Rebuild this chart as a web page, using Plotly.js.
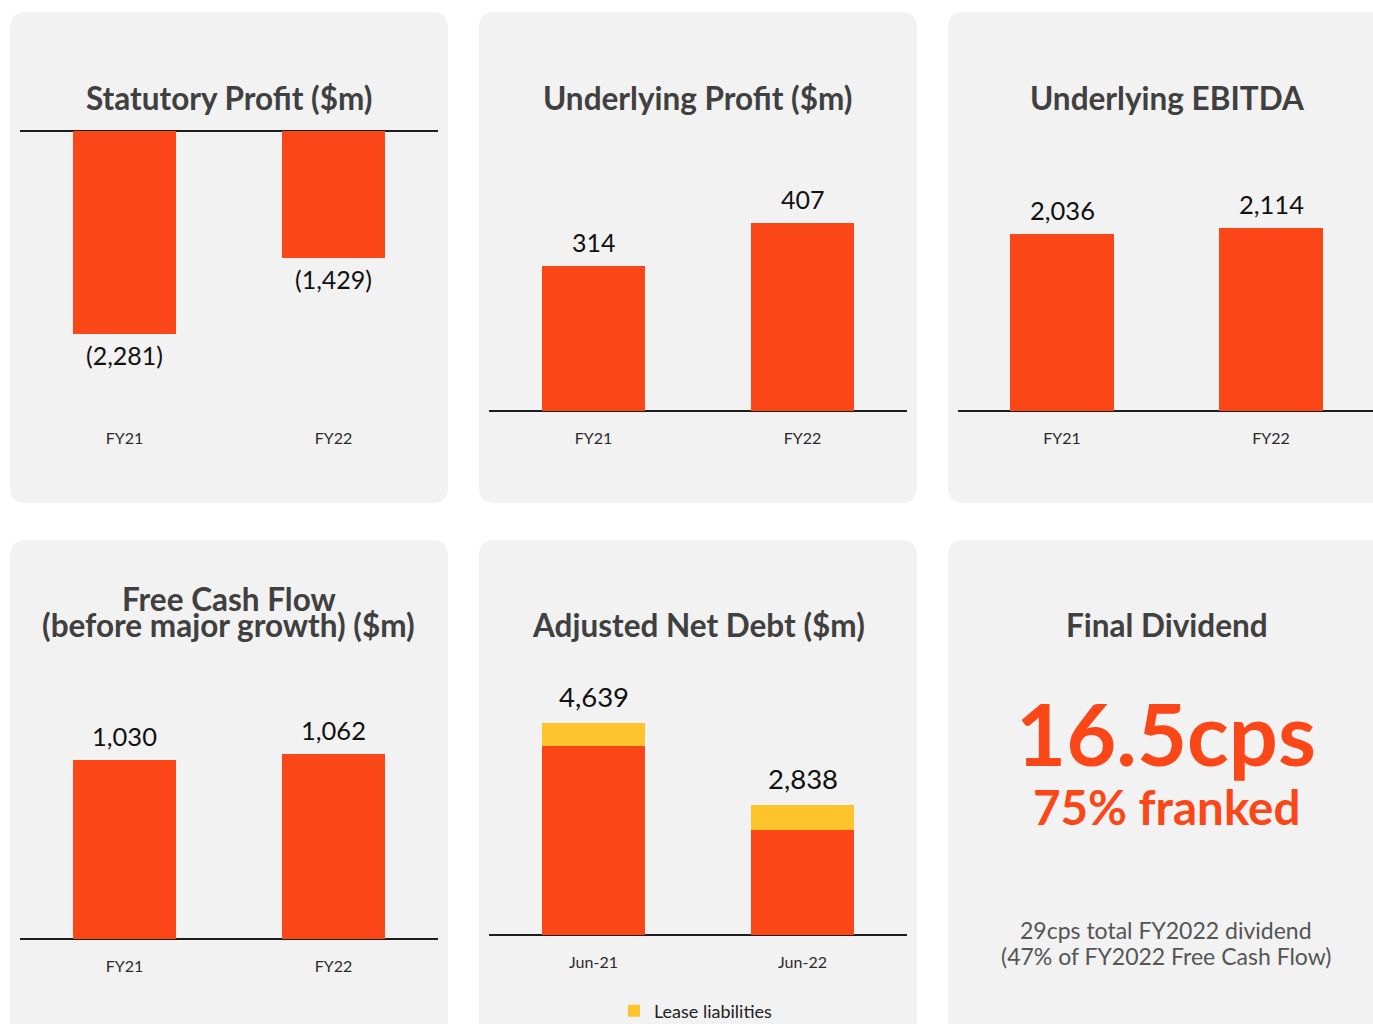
<!DOCTYPE html>
<html>
<head>
<meta charset="utf-8">
<script src="https://cdn.plot.ly/plotly-3.0.1.min.js"></script>
<style>
  html, body { margin: 0; padding: 0; background: #ffffff; width: 1373px; height: 1024px; overflow: hidden; }
  #chart { width: 1373px; height: 1024px; display: block; overflow: hidden; }
</style>
</head>
<body>
<div id="chart"></div>
<script>
// ---------------- DATA ----------------
const fyCategories = ["FY21", "FY22"];
const debtCategories = ["Jun-21", "Jun-22"];

const statutoryProfit = [-2281, -1429];
const underlyingProfit = [314, 407];
const underlyingEbitda = [2036, 2114];
const freeCashFlow = [1030, 1062];
const netDebtTotal = [4639, 2838];
const leaseLiabilities = [503, 547];
const netDebtExLease = [4136, 2291];

const titles = {
  statutory: "Statutory Profit ($m)",
  underlying: "Underlying Profit ($m)",
  ebitda: "Underlying EBITDA",
  fcfLine1: "Free Cash Flow",
  fcfLine2: "(before major growth) ($m)",
  debt: "Adjusted Net Debt ($m)",
  dividend: "Final Dividend"
};
const dividendHeadline = "16.5cps";
const dividendFranked = "75% franked";
const dividendNote1 = "29cps total FY2022 dividend";
const dividendNote2 = "(47% of FY2022 Free Cash Flow)";
const leaseLegendName = "Lease liabilities";

// ---------------- STYLE ----------------
const W = 1373, H = 1024;
const ORANGE = "#FB4718";
const YELLOW = "#FFC42B";
const PANEL = "#F2F2F2";
const TITLE_COLOR = "#404040";
const FONT = "Lato, 'Open Sans', sans-serif";

const px = x => x / W;
const py = y => 1 - y / H;

function fmt(v) {
  const s = Math.abs(v).toLocaleString("en-US");
  return v < 0 ? "(" + s + ")" : s;
}

function roundedRect(x0, y0, x1, y1, r) {
  const X = v => px(v).toFixed(5), Y = v => py(v).toFixed(5);
  return "M " + X(x0 + r) + "," + Y(y0) +
    " L " + X(x1 - r) + "," + Y(y0) +
    " Q " + X(x1) + "," + Y(y0) + " " + X(x1) + "," + Y(y0 + r) +
    " L " + X(x1) + "," + Y(y1 - r) +
    " Q " + X(x1) + "," + Y(y1) + " " + X(x1 - r) + "," + Y(y1) +
    " L " + X(x0 + r) + "," + Y(y1) +
    " Q " + X(x0) + "," + Y(y1) + " " + X(x0) + "," + Y(y1 - r) +
    " L " + X(x0) + "," + Y(y0 + r) +
    " Q " + X(x0) + "," + Y(y0) + " " + X(x0 + r) + "," + Y(y0) + " Z";
}

const panels = [
  [10, 12, 448, 503], [479, 12, 917, 503], [948, 12, 1400, 503],
  [10, 540, 448, 1060], [479, 540, 917, 1060], [948, 540, 1400, 1060]
];

const shapes = panels.map(p => ({
  type: "path", xref: "paper", yref: "paper", layer: "below",
  path: roundedRect(p[0], p[1], p[2], p[3], 16),
  fillcolor: PANEL, line: { width: 0 }
}));

// ---------------- TRACES ----------------
function barTrace(xa, ya, cats, vals, color, name, showlegend) {
  return {
    type: "bar", x: cats, y: vals, xaxis: xa, yaxis: ya,
    marker: { color: color, line: { width: 0 } },
    name: name || "", showlegend: !!showlegend, hoverinfo: "skip"
  };
}

const traces = [
  barTrace("x", "y", fyCategories, statutoryProfit, ORANGE),
  barTrace("x2", "y2", fyCategories, underlyingProfit, ORANGE),
  barTrace("x3", "y3", fyCategories, underlyingEbitda, ORANGE),
  barTrace("x4", "y4", fyCategories, freeCashFlow, ORANGE),
  barTrace("x5", "y5", debtCategories, netDebtExLease, ORANGE),
  barTrace("x5", "y5", debtCategories, leaseLiabilities, YELLOW, leaseLegendName, true)
];

// ---------------- AXES ----------------
function xAxis(anchor, x0, x1, range) {
  return {
    anchor: anchor,
    domain: [px(x0), px(x1)], range: range, type: "category",
    showgrid: false, zeroline: false, showline: false, ticks: "",
    ticklabelstandoff: 16,
    tickfont: { family: FONT, size: 16, color: "#2a2a2a" }, fixedrange: true
  };
}
function yAxis(anchor, y0, y1, range) {
  return {
    anchor: anchor,
    domain: [py(y1), py(y0)], range: range,
    showgrid: false, showticklabels: false, ticks: "", showline: false,
    zeroline: true, zerolinecolor: "#1e1e1e", zerolinewidth: 2, fixedrange: true
  };
}

// value labels via data coordinates
const annotations = [];
function valueLabels(xa, ya, cats, vals, shift, size) {
  cats.forEach((c, i) => {
    annotations.push({
      xref: xa, yref: ya, x: c, y: vals[i], text: fmt(vals[i]),
      showarrow: false, yanchor: "middle", xanchor: "center",
      yshift: vals[i] < 0 ? -(shift - 2) : shift,
      font: { family: FONT, size: size, color: "#111111" }
    });
  });
}
valueLabels("x", "y", fyCategories, statutoryProfit, 23, 25);
valueLabels("x2", "y2", fyCategories, underlyingProfit, 24, 25);
valueLabels("x3", "y3", fyCategories, underlyingEbitda, 24, 25.5);
valueLabels("x4", "y4", fyCategories, freeCashFlow, 24, 25.5);
valueLabels("x5", "y5", debtCategories, netDebtTotal, 27, 27.5);

function textNote(text, cx, cy, size, color, bold) {
  annotations.push({
    xref: "paper", yref: "paper", x: px(cx), y: py(cy), text: bold ? "<b>" + text + "</b>" : text,
    showarrow: false, xanchor: "center", yanchor: "middle",
    font: { family: FONT, size: size, color: color }
  });
}
const TS = 31.5;
textNote(titles.statutory, 229, 97.5, TS, TITLE_COLOR, true);
textNote(titles.underlying, 698, 97.5, TS, TITLE_COLOR, true);
textNote(titles.ebitda, 1167, 97.5, TS, TITLE_COLOR, true);
textNote(titles.fcfLine1, 229, 598.5, TS, TITLE_COLOR, true);
textNote(titles.fcfLine2, 229, 625, TS, TITLE_COLOR, true);
textNote(titles.debt, 698, 625, TS, TITLE_COLOR, true);
textNote(titles.dividend, 1167, 625, TS, TITLE_COLOR, true);
textNote(dividendHeadline, 1166, 732, 86.5, ORANGE, true);
textNote(dividendFranked, 1166, 806, 47.5, ORANGE, true);
textNote(dividendNote1, 1166, 930, 23, "#555555", false);
textNote(dividendNote2, 1166, 956, 23, "#555555", false);

const layout = {
  width: W, height: H,
  margin: { l: 0, r: 0, t: 0, b: 0, pad: 0, autoexpand: false },
  paper_bgcolor: "#ffffff", plot_bgcolor: "rgba(0,0,0,0)",
  barmode: "stack", bargap: 0.507,
  font: { family: FONT },
  showlegend: true,
  legend: {
    orientation: "h", x: px(614), xanchor: "left", y: py(1011), yanchor: "middle",
    bgcolor: "rgba(0,0,0,0)", font: { family: FONT, size: 18, color: "#222222" },
    itemwidth: 30
  },
  xaxis: xAxis("y", 20, 438, [-0.5, 1.5]),
  yaxis: yAxis("x", 131, 411, [-3150, 0]),
  xaxis2: xAxis("y2", 489, 907, [-0.5, 1.5]),
  yaxis2: yAxis("x2", 131, 411, [0, 605]),
  xaxis3: xAxis("y3", 957.5, 1373, [-0.5, 1.488]),
  yaxis3: yAxis("x3", 131, 411, [0, 3226]),
  xaxis4: xAxis("y4", 20, 438, [-0.5, 1.5]),
  yaxis4: yAxis("x4", 659, 939, [0, 1609]),
  xaxis5: xAxis("y5", 489, 907, [-0.5, 1.5]),
  yaxis5: yAxis("x5", 655, 935, [0, 6127]),
  shapes: shapes,
  annotations: annotations
};

Plotly.newPlot("chart", traces, layout, { staticPlot: true, displayModeBar: false });
</script>
</body>
</html>
